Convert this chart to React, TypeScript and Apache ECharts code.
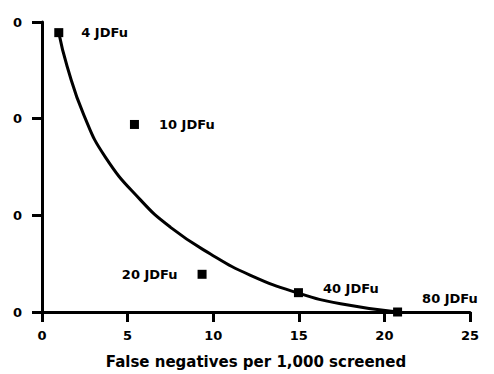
import React, { useEffect, useRef } from "react";
import * as echarts from "echarts";

const doseLabels = ["4 JDFu", "10 JDFu", "20 JDFu", "40 JDFu", "80 JDFu"];
const falseNegatives = [0.98, 5.4, 9.35, 14.98, 20.77];
const yValues = [2.89, 1.94, 0.39, 0.2, 0];

const curveX = [0.98, 1.47, 2.44, 3.71, 5.75, 7.51, 9.84, 12.18, 14.98, 17.44, 20.77];
const curveY = [2.89, 2.54, 2.04, 1.6, 1.16, 0.876, 0.6, 0.38, 0.195, 0.085, 0];

const yTickLabels = ["0", "0", "0", "0"];
const xTitle = "False negatives per 1,000 screened";

const labelPlacement: Array<{ position: string; offset: [number, number] }> = [
  { position: "right", offset: [-2, 0] },
  { position: "right", offset: [0, 0] },
  { position: "left", offset: [0, 0] },
  { position: "right", offset: [0, -4] },
  { position: "right", offset: [0, -14] },
];

const FONT = "'DejaVu Sans', sans-serif";

export default function App() {
  const ref = useRef<HTMLDivElement>(null);
  useEffect(() => {
    if (!ref.current) return;
    const chart = echarts.init(ref.current, null, { renderer: "svg" });
    const axisLine = { show: true, lineStyle: { color: "#000", width: 3 } };
    const axisTick = { show: true, inside: false, length: 10, lineStyle: { color: "#000", width: 3 } };
    chart.setOption({
      animation: false,
      backgroundColor: "#fff",
      grid: { left: 42, right: 24, top: 22, bottom: 54, containLabel: false },
      xAxis: {
        type: "value",
        min: 0,
        max: 25,
        interval: 5,
        axisLine,
        axisTick,
        splitLine: { show: false },
        axisLabel: { color: "#000", fontFamily: FONT, fontWeight: "bold", fontSize: 13, margin: 17 },
        name: xTitle,
        nameLocation: "middle",
        nameGap: 42,
        nameTextStyle: { color: "#000", fontFamily: FONT, fontWeight: "bold", fontSize: 15 },
      },
      yAxis: {
        type: "value",
        min: 0,
        max: 3,
        interval: 1,
        axisLine,
        axisTick,
        splitLine: { show: false },
        axisLabel: {
          color: "#000",
          fontFamily: FONT,
          fontWeight: "bold",
          fontSize: 13,
          margin: 20,
          formatter: (_v: number, i: number) => yTickLabels[i] ?? "0",
        },
      },
      series: [
        {
          type: "line",
          data: curveX.map((x, i) => [x, curveY[i]]),
          smooth: 0.5,
          showSymbol: false,
          symbol: "none",
          lineStyle: { color: "#000", width: 3 },
          z: 2,
        },
        {
          type: "scatter",
          symbol: "rect",
          symbolSize: 9,
          itemStyle: { color: "#000", opacity: 1 },
          z: 3,
          data: falseNegatives.map((x, i) => ({
            value: [x, yValues[i]],
            label: {
              show: true,
              formatter: doseLabels[i],
              position: labelPlacement[i].position,
              offset: labelPlacement[i].offset,
              distance: 20,
              color: "#000",
              fontFamily: FONT,
              fontWeight: "bold",
              fontSize: 13,
            },
          })),
        },
      ],
    });
    return () => chart.dispose();
  }, []);
  return <div ref={ref} style={{ width: 494, height: 374, position: "absolute", left: 0, top: 0 }} />;
}
